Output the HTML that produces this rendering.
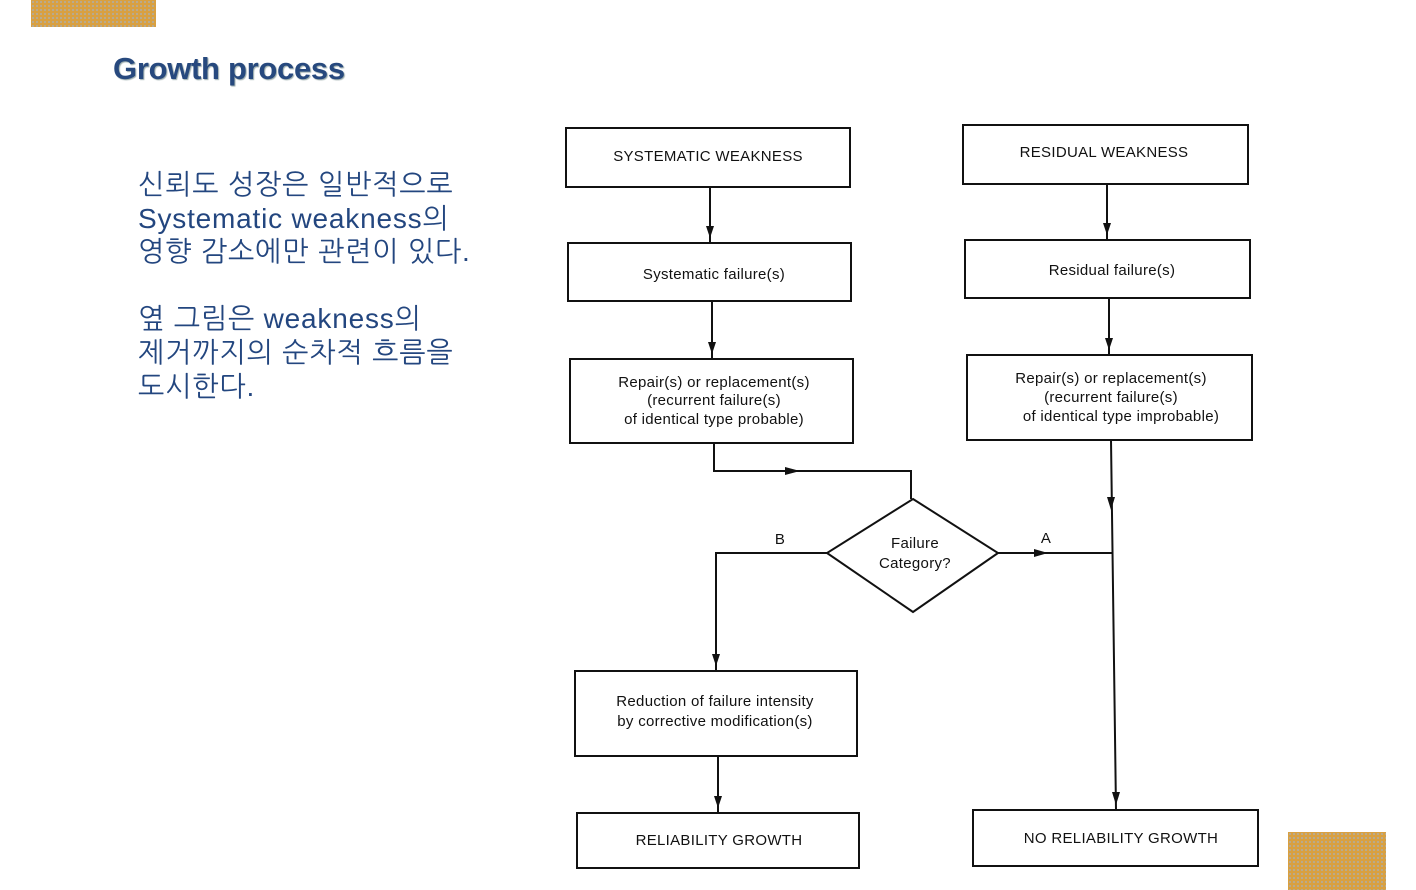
<!DOCTYPE html>
<html><head><meta charset="utf-8"><style>
body{margin:0;width:1416px;height:890px;background:#fff;position:relative;overflow:hidden;font-family:"Liberation Sans","Noto Sans CJK KR",sans-serif}
.pat{position:absolute;background-color:#d9a040;background-image:radial-gradient(circle,#b8aa90 1px,transparent 1.3px);background-size:4px 4px}
#title{position:absolute;left:113px;top:51px;font-size:31px;font-weight:bold;color:#27497e;text-shadow:1px 1px 1px #9aa;letter-spacing:-0.3px}
#kr{position:absolute;left:138px;top:168px;font-size:28px;color:#23467f;font-family:"Liberation Sans","NanumGothic","Noto Sans CJK KR",sans-serif;white-space:nowrap;letter-spacing:0.8px}
#kr div{height:33.6px;line-height:33.6px}
svg{position:absolute;left:0;top:0}
svg text{font-family:"Liberation Sans",sans-serif;font-size:15px;fill:#111;letter-spacing:0.3px}
</style></head><body>
<div class="pat" style="left:31px;top:0;width:125px;height:27px"></div>
<div class="pat" style="left:1288px;top:832px;width:98px;height:58px"></div>
<div id="title">Growth process</div>
<div id="kr"><div>신뢰도 성장은 일반적으로</div><div>Systematic weakness의</div><div>영향 감소에만 관련이 있다.</div><div></div><div>옆 그림은 weakness의</div><div>제거까지의 순차적 흐름을</div><div>도시한다.</div></div>
<svg width="1416" height="890" viewBox="0 0 1416 890">
<g fill="none" stroke="#111" stroke-width="2">
<rect x="566" y="128" width="284" height="59"/>
<rect x="568" y="243" width="283" height="58"/>
<rect x="570" y="359" width="283" height="84"/>
<rect x="963" y="125" width="285" height="59"/>
<rect x="965" y="240" width="285" height="58"/>
<rect x="967" y="355" width="285" height="85"/>
<rect x="575" y="671" width="282" height="85"/>
<rect x="577" y="813" width="282" height="55"/>
<rect x="973" y="810" width="285" height="56"/>
<polygon points="913,499 998,553 913,612 827,553"/>
<path d="M710 187V243 M712 301V359 M714 443V471H911V499 M827,553H716V671 M718 756V813 M1107 184V240 M1109 298V355 M1111 440L1116 810 M998 553H1112"/>
</g>
<g fill="#111">
<polygon points="706,226 714,226 710,238"/>
<polygon points="708,342 716,342 712,354"/>
<polygon points="785,467 785,475 800,471"/>
<polygon points="712,654 720,654 716,666"/>
<polygon points="714,796 722,796 718,808"/>
<polygon points="1103,223 1111,223 1107,235"/>
<polygon points="1105,338 1113,338 1109,350"/>
<polygon points="1107,497 1115,497 1111,510"/>
<polygon points="1034,549 1034,557 1048,553"/>
<polygon points="1112,792 1120,792 1116,805"/>
</g>
<g text-anchor="middle">
<text x="708" y="161">SYSTEMATIC WEAKNESS</text>
<text x="714" y="279">Systematic failure(s)</text>
<text x="714" y="387">Repair(s) or replacement(s)</text>
<text x="714" y="405">(recurrent failure(s)</text>
<text x="714" y="424">of identical type probable)</text>
<text x="1104" y="157">RESIDUAL WEAKNESS</text>
<text x="1112" y="275">Residual failure(s)</text>
<text x="1111" y="383">Repair(s) or replacement(s)</text>
<text x="1111" y="402">(recurrent failure(s)</text>
<text x="1121" y="421">of identical type improbable)</text>
<text x="915" y="548">Failure</text>
<text x="915" y="568">Category?</text>
<text x="780" y="544">B</text>
<text x="1046" y="543">A</text>
<text x="715" y="706">Reduction of failure intensity</text>
<text x="715" y="726">by corrective modification(s)</text>
<text x="719" y="845">RELIABILITY GROWTH</text>
<text x="1121" y="843">NO RELIABILITY GROWTH</text>
</g>
</svg>
</body></html>
